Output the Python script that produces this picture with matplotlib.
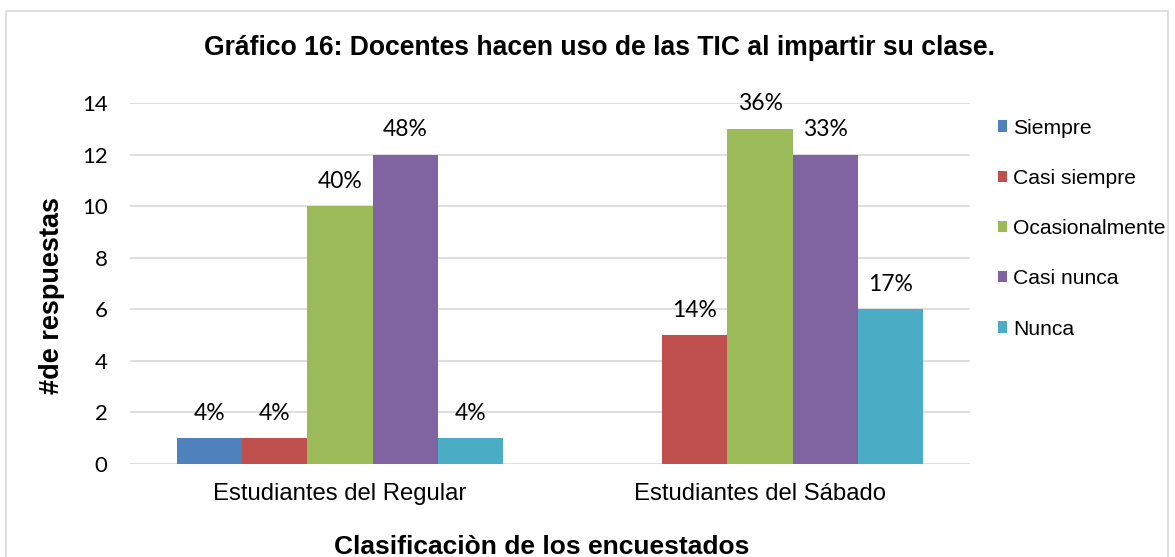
import numpy as np
import matplotlib
import matplotlib.pyplot as plt
from matplotlib.patches import Rectangle

grupos = ['Estudiantes del Regular', 'Estudiantes del Sábado']
series = ['Siempre', 'Casi siempre', 'Ocasionalmente', 'Casi nunca', 'Nunca']
siempre = [1, 0]
casi_siempre = [1, 5]
ocasionalmente = [10, 13]
casi_nunca = [12, 12]
nunca = [1, 6]
etiquetas = [['4%', ''], ['4%', '14%'], ['40%', '36%'], ['48%', '33%'], ['4%', '17%']]
colores = ['#4F81BD', '#C0504D', '#9BBB59', '#8064A2', '#4BACC6']

valores = [siempre, casi_siempre, ocasionalmente, casi_nunca, nunca]

fig = plt.figure(figsize=(11.75, 5.57), dpi=100)
ax = fig.add_axes([0.1106, 0.167, 0.715, 0.648])

# marco gris alrededor del grafico
fig.patches.append(Rectangle((6/1175, -0.05), 1162/1175, 1.05 - 11/557, transform=fig.transFigure,
                             fill=False, edgecolor='#D9D9D9', linewidth=1.2))

x = np.arange(len(grupos))
ancho = 0.155
for i, (nombre, vals) in enumerate(zip(series, valores)):
    pos = x + (i - 2) * ancho
    ax.bar(pos, vals, ancho, color=colores[i], label=nombre, zorder=3)
    for p, v, t in zip(pos, vals, etiquetas[i]):
        if t:
            ax.text(p, v + 0.97, t, ha='center', va='center', fontsize=16.5, family='Lato')

ax.set_xlim(-0.5, 1.5)
ax.set_ylim(0, 14)
ax.set_yticks(range(0, 15, 2))
ax.set_xticks(x)
ax.set_xticklabels(grupos, fontsize=17.2, family='Liberation Sans')
for lab in ax.get_yticklabels():
    lab.set_family('Lato')
    lab.set_fontsize(16)
ax.tick_params(axis='both', length=0)
ax.tick_params(axis='y', pad=16)
ax.tick_params(axis='x', pad=14)
ax.grid(axis='y', color='#D9D9D9', linewidth=1.2, zorder=0)
for s in ax.spines.values():
    s.set_visible(False)

fig.text(52/1175, 1 - 296/557, '#de respuestas', rotation=90, ha='center', va='center',
         fontsize=19.5, fontweight='bold', family='Liberation Sans')
fig.text(542/1175, 1 - 554/557, 'Clasificaciòn de los encuestados', ha='center', va='baseline',
         fontsize=19, fontweight='bold', family='Liberation Sans')
fig.text(599/1175, 1 - 48/557, 'Gráfico 16: Docentes hacen uso de las TIC al impartir su clase.',
         ha='center', va='center', fontsize=19.1, fontweight='bold', family='Liberation Sans')

leg = ax.legend(loc='upper left', bbox_to_anchor=(1.0335, 0.957), frameon=False,
                prop={'family': 'Liberation Sans', 'size': 15.2}, handlelength=0.43, handleheight=0.43,
                handletextpad=0.28, labelspacing=1.48, borderaxespad=0, borderpad=0)

fig.savefig('out.png', dpi=100)
